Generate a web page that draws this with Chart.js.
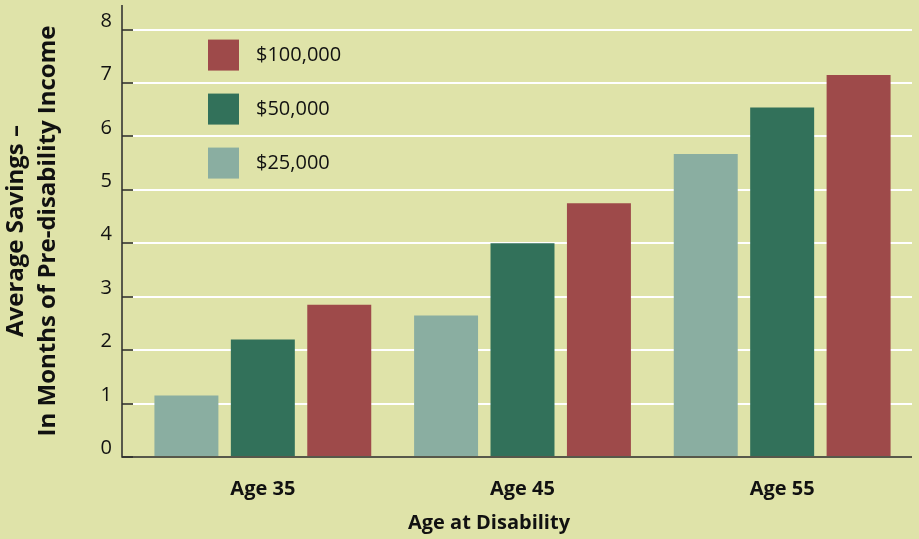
<!DOCTYPE html>
<html>
<head>
<meta charset="utf-8">
<script src="https://cdn.jsdelivr.net/npm/chart.js@4.4.1/dist/chart.umd.min.js"></script>
<style>
  html, body { margin: 0; padding: 0; background: #dfe3a9; }
  #wrap { width: 919px; height: 539px; }
</style>
</head>
<body>
<div id="wrap"><canvas id="savingsChart" width="919" height="539"></canvas></div>
<script>
// Data
const ages = ['Age 35', 'Age 45', 'Age 55'];
const incomeLabels = ['$25,000', '$50,000', '$100,000'];
const savings25k = [1.15, 2.65, 5.67];
const savings50k = [2.2, 4.0, 6.54];
const savings100k = [2.85, 4.75, 7.15];
const yTicks = [0, 1, 2, 3, 4, 5, 6, 7, 8];

const barColors = ['#8aaea1', '#32715a', '#9e4a4a'];
const FONT = '"Open Sans"';
const INK = '#111';

// Axis line, baseline, legend and x title drawn by hand
const decorPlugin = {
    id: 'decor',
    afterDraw(chart) {
        const ctx = chart.ctx;
        const area = chart.chartArea;
        const y = chart.scales.y;
        const axisX = area.left - 11;

        ctx.save();
        ctx.strokeStyle = '#2b2b2b';
        ctx.lineWidth = 1.5;
        ctx.beginPath();
        ctx.moveTo(axisX, area.top);
        ctx.lineTo(axisX, y.getPixelForValue(0));
        ctx.lineTo(area.right, y.getPixelForValue(0));
        ctx.stroke();

        // Legend (reverse order, top to bottom)
        const ds = chart.data.datasets;
        ctx.font = '20px ' + FONT;
        ctx.textBaseline = 'middle';
        ctx.textAlign = 'left';
        for (let i = 0; i < ds.length; i++) {
            const d = ds[ds.length - 1 - i];
            const bx = area.left + 75;
            const by = y.getPixelForValue(8) + 10 + i * 54;
            ctx.fillStyle = d.backgroundColor;
            ctx.fillRect(bx, by, 31, 31);
            ctx.fillStyle = INK;
            ctx.fillText(d.label, bx + 48, by + 16);
        }

        // X axis title
        ctx.font = 'bold 20px ' + FONT;
        ctx.textAlign = 'center';
        ctx.fillText('Age at Disability', 489, 523);
        ctx.restore();
    }
};

new Chart(document.getElementById('savingsChart'), {
    type: 'bar',
    data: {
        labels: ages,
        datasets: [
            { label: incomeLabels[0], data: savings25k, backgroundColor: barColors[0] },
            { label: incomeLabels[1], data: savings50k, backgroundColor: barColors[1] },
            { label: incomeLabels[2], data: savings100k, backgroundColor: barColors[2] }
        ]
    },
    options: {
        responsive: false,
        animation: false,
        categoryPercentage: 0.883,
        barPercentage: 0.837,
        layout: { padding: { top: 5, right: 7, left: 0, bottom: 0 } },
        plugins: {
            legend: { display: false },
            tooltip: { enabled: false }
        },
        scales: {
            x: {
                grid: { display: false, drawTicks: false },
                border: { display: false },
                ticks: {
                    color: INK,
                    padding: 20,
                    font: { family: FONT, size: 20, weight: 'bold' }
                },
                afterFit(scale) { scale.height = 82; }
            },
            y: {
                min: 0,
                max: 8.46,
                afterBuildTicks(scale) {
                    scale.ticks = yTicks.map(v => ({ value: v }));
                },
                grid: {
                    color: ctx => ctx.tick && ctx.tick.value === 0 ? 'rgba(0,0,0,0)' : '#ffffff',
                    lineWidth: 2,
                    tickLength: 11,
                    tickColor: '#2b2b2b',
                    tickWidth: 1.5
                },
                border: { display: false },
                ticks: {
                    color: INK,
                    padding: 10,
                    // second empty line lifts the number above its tick, as in the original
                    callback: v => [String(v), ''],
                    font: { family: FONT, size: 20, lineHeight: 0.85 }
                },
                title: {
                    display: true,
                    text: ['Average Savings \u2013', 'In Months of Pre-disability Income'],
                    color: INK,
                    padding: 0,
                    font: { family: FONT, size: 24, weight: 'bold', lineHeight: 1.33 }
                },
                afterFit(scale) {
                    scale.width = 133;
                    scale.paddingTop = 0;
                    scale.paddingBottom = 0;
                }
            }
        }
    },
    plugins: [decorPlugin]
});
</script>
</body>
</html>
